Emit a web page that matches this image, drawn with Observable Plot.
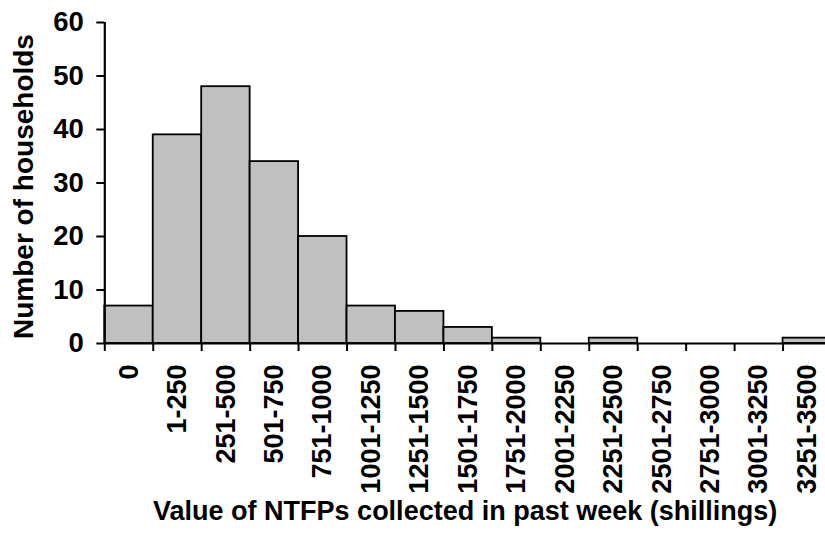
<!DOCTYPE html>
<html><head><meta charset="utf-8">
<script src="https://cdn.jsdelivr.net/npm/d3@7"></script>
<script src="https://cdn.jsdelivr.net/npm/@observablehq/plot@0.6"></script>
<style>
html,body{margin:0;padding:0;background:#fff;overflow:hidden;}
</style></head><body><div id="chart"></div>
<script>
const categories = ["0","1-250","251-500","501-750","751-1000","1001-1250","1251-1500","1501-1750","1751-2000","2001-2250","2251-2500","2501-2750","2751-3000","3001-3250","3251-3500"];
const households = [7,39,48,34,20,7,6,3,1,0,1,0,0,0,1];
const yTicks = [0,10,20,30,40,50,60];
const yTitle = "Number of households";
const xTitle = "Value of NTFPs collected in past week (shillings)";

const data = categories.map((c,i)=>({category:c, index:i, count:households[i]}));
const centers = categories.map((c,i)=>i+0.5);
const bounds = categories.map((c,i)=>i).concat([categories.length]);

const font = "'Liberation Sans', Arial, sans-serif";
const chart = Plot.plot({
  width: 825, height: 538,
  marginTop: 22, marginBottom: 195, marginLeft: 104.3, marginRight: 0,
  style: {fontFamily: font, fontWeight: "bold", fontSize: "27.5px", color: "#000", background: "#fff"},
  x: {domain: [0, categories.length], range: [104.3, 831]},
  y: {domain: [0, 60]},
  marks: [
    Plot.rectY(data, {x1: "index", x2: d => d.index + 1, y1: 0, y2: "count", fill: "#C0C0C0", stroke: "#000", strokeWidth: 1.8}),
    Plot.ruleY([0], {stroke: "#000", strokeWidth: 2.2}),
    Plot.ruleX([0], {stroke: "#000", strokeWidth: 2.2}),
    Plot.axisY({ticks: yTicks, tickSize: 8, tickPadding: 13, strokeWidth: 2, label: null, fontSize: 27.5, fontWeight: "bold"}),
    Plot.axisX({ticks: bounds, tickSize: 8, tickFormat: () => "", strokeWidth: 2, label: null}),
    Plot.axisX({ticks: centers, tickSize: 0, tickPadding: 21, tickRotate: -90, tickFormat: v => categories[Math.floor(v)], label: null, fontSize: 27, fontWeight: "bold"}),
    Plot.text([yTitle], {frameAnchor: "left", textAnchor: "middle", lineAnchor: "middle", rotate: -90, dx: -81, dy: 3.5, fontSize: 28, fontWeight: "bold", fill: "#000"}),
    Plot.text([xTitle], {frameAnchor: "bottom", dy: 176, fontSize: 27, fontWeight: "bold", fill: "#000"})
  ]
});
document.getElementById("chart").appendChild(chart);
</script></body></html>
